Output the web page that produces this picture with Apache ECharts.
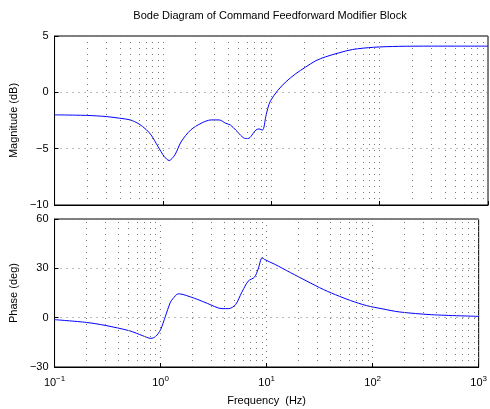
<!DOCTYPE html>
<html>
<head>
<meta charset="utf-8">
<script src="https://cdn.jsdelivr.net/npm/echarts@6/dist/echarts.min.js"></script>
<style>
  html, body { margin: 0; padding: 0; background: #fff; }
  #chart { width: 490px; height: 409px; }
</style>
</head>
<body>
<div id="chart"></div>
<script>
// magnitude response
const magFreq = [0.1, 0.2, 0.3, 0.4, 0.5, 0.6, 0.7, 0.78, 0.9, 1.03, 1.14, 1.29, 1.47, 1.8, 2.25, 2.78, 3.3, 3.8, 4.2, 4.7, 5.8, 6.1, 7.2, 7.7, 8.3, 8.9, 9.1, 9.5, 9.9, 11.5, 13.6, 16.8, 20.8, 25.7, 31.7, 42, 56, 88, 150, 300, 1000];
const magDb = [-2.0, -2.05, -2.15, -2.3, -2.45, -2.8, -3.3, -3.8, -4.8, -5.7, -6.05, -5.55, -4.4, -3.35, -2.75, -2.45, -2.45, -2.75, -2.9, -3.35, -4.1, -4.1, -3.35, -3.25, -3.35, -2.15, -1.75, -1.1, -0.7, 0.18, 0.92, 1.65, 2.25, 2.8, 3.15, 3.5, 3.8, 4.0, 4.08, 4.1, 4.1];

// phase response
const phaseFreq = [0.1, 0.2, 0.3, 0.51, 0.68, 0.81, 0.9, 1.0, 1.11, 1.23, 1.3, 1.47, 1.63, 2.25, 2.78, 3.8, 4.4, 5.1, 5.8, 6.7, 7.7, 8.3, 9.1, 9.5, 11.9, 16.8, 24, 34.4, 48.6, 62, 88, 125, 178, 360, 1000];
const phaseDeg = [-1.2, -2.9, -4.7, -8.0, -11, -12.6, -11.4, -7.3, 0.8, 9, 11.4, 14.5, 14.1, 11, 8.6, 5.5, 5.5, 8, 15.1, 22.2, 24.7, 29.4, 36.6, 35.5, 32.5, 27.4, 22.2, 17.1, 13, 10.4, 7.3, 5.3, 3.5, 1.8, 0.8];

// minor log grid positions
const minorFreq = [];
[0.1, 1, 10, 100].forEach(function (d) {
    for (let k = 2; k <= 9; k++) minorFreq.push(+(k * d).toPrecision(3));
});

const font = 'Liberation Sans, Arial, sans-serif';
const dotted = { color: '#777', width: 1, type: [1, 5] };

function pairs(xs, ys) {
    return xs.map(function (x, i) { return [x, ys[i]]; });
}

function xAxis(idx, showLabels) {
    return {
        type: 'log', logBase: 10, gridIndex: idx, min: 0.1, max: 1000,
        name: showLabels ? 'Frequency  (Hz)' : '',
        nameLocation: 'middle', nameGap: 28,
        nameTextStyle: { fontFamily: font, fontSize: 11, color: '#000' },
        axisLine: { show: true, onZero: false, lineStyle: { color: '#000', width: 1 } },
        axisTick: { show: true, inside: true, length: 4, lineStyle: { color: '#000' } },
        axisLabel: {
            show: showLabels, fontFamily: font, fontSize: 11, color: '#000', margin: 8,
            formatter: function (v) { return '10{sup|' + Math.round(Math.log10(v)).toString().replace('-', '\u2212') + '}'; },
            rich: { sup: { fontSize: 8, verticalAlign: 'top', padding: [0, 0, 8, 0], fontFamily: font, color: '#000' } }
        },
        splitLine: { show: true, lineStyle: dotted },
        minorTick: { show: false }
    };
}

function yAxis(idx, name, min, max, interval) {
    return {
        type: 'value', gridIndex: idx, min: min, max: max, interval: interval,
        name: name, nameLocation: 'middle', nameGap: 30,
        nameTextStyle: { fontFamily: font, fontSize: 11, color: '#000' },
        axisLine: { show: true, lineStyle: { color: '#000', width: 1 } },
        axisTick: { show: true, inside: true, length: 4, lineStyle: { color: '#000' } },
        axisLabel: {
            fontFamily: font, fontSize: 11, color: '#000', margin: 6,
            formatter: function (v) { return String(v).replace('-', '\u2212'); }
        },
        splitLine: { show: true, lineStyle: dotted }
    };
}

function curve(idx, data) {
    return {
        type: 'line', xAxisIndex: idx, yAxisIndex: idx,
        data: data, showSymbol: false, smooth: 0.3,
        lineStyle: { color: '#0000ff', width: 1 },
        markLine: {
            silent: true, symbol: 'none', label: { show: false },
            lineStyle: dotted, animation: false,
            data: minorFreq.map(function (f) { return { xAxis: f }; })
        },
        z: 3
    };
}

const chart = echarts.init(document.getElementById('chart'), null, { renderer: 'canvas' });
chart.setOption({
    animation: false,
    backgroundColor: '#fff',
    title: {
        text: 'Bode Diagram of Command Feedforward Modifier Block',
        left: 265, top: 5, textAlign: 'center',
        textStyle: { fontFamily: font, fontSize: 11, fontWeight: 'normal', color: '#000' }
    },
    grid: [
        { left: 53, top: 36, width: 435, height: 169, show: true, borderColor: '#000', borderWidth: 1 },
        { left: 53, top: 219, width: 435, height: 148, show: true, borderColor: '#000', borderWidth: 1 }
    ],
    xAxis: [xAxis(0, false), xAxis(1, true)],
    yAxis: [
        yAxis(0, 'Magnitude (dB)', -10, 5, 5),
        yAxis(1, 'Phase (deg)', -30, 60, 30)
    ],
    series: [
        curve(0, pairs(magFreq, magDb)),
        curve(1, pairs(phaseFreq, phaseDeg))
    ]
});
</script>
</body>
</html>
